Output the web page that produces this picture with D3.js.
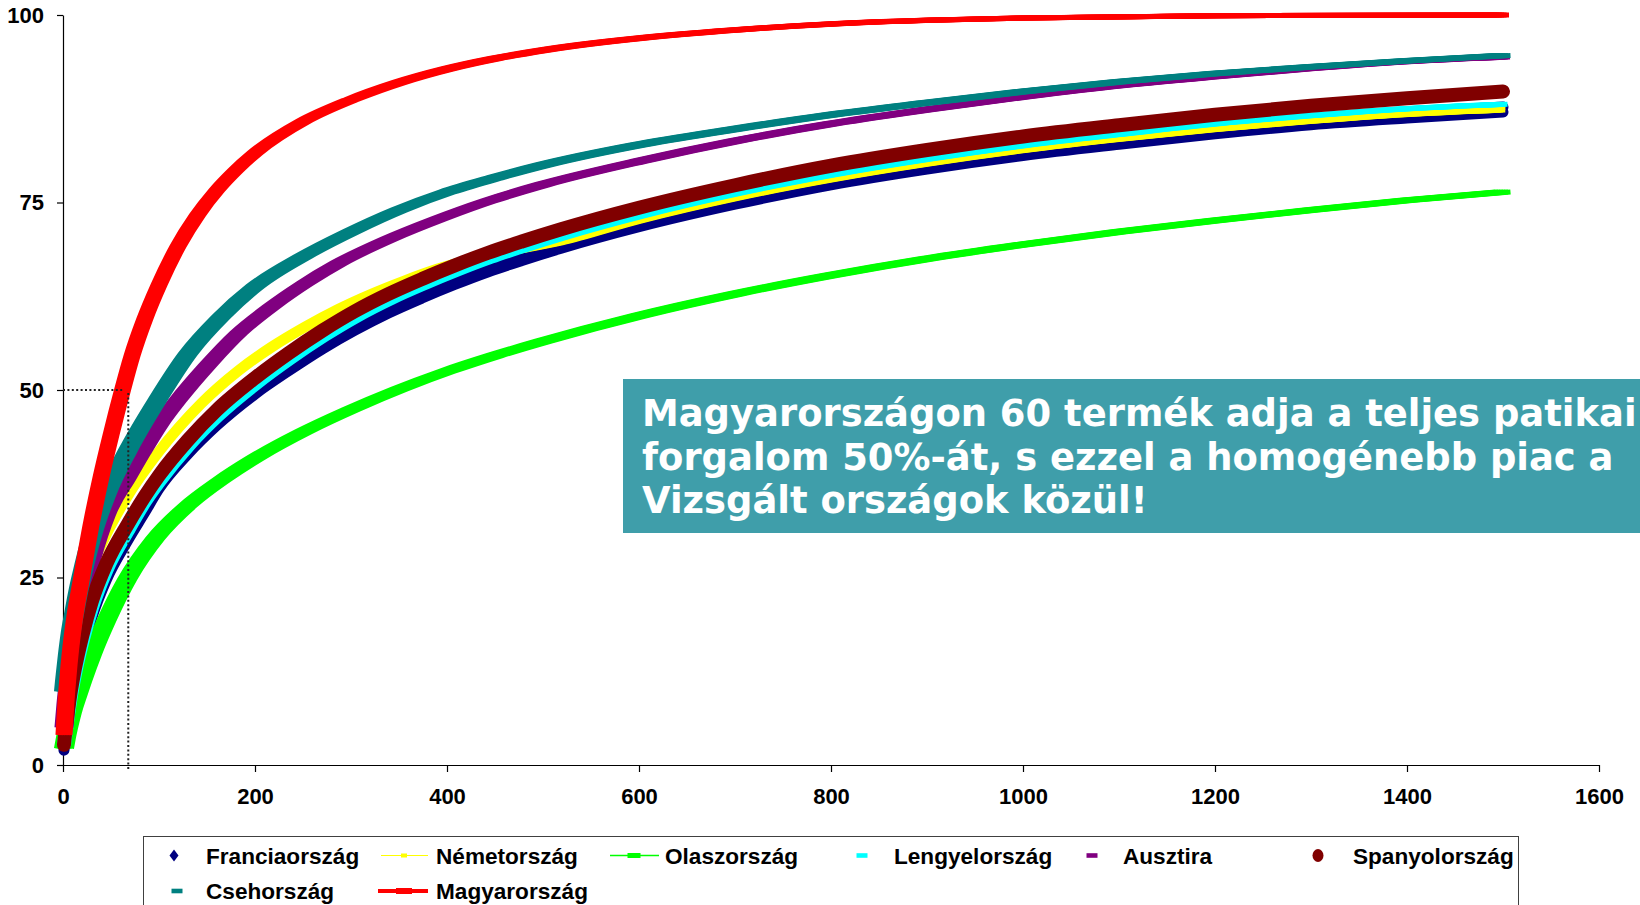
<!DOCTYPE html>
<html>
<head>
<meta charset="utf-8">
<script src="https://cdn.jsdelivr.net/npm/d3@7"></script>
<style>
  body { margin: 0; background: #fff; }
  svg { display: block; }
</style>
</head>
<body>
<svg id="chart" width="1640" height="905"></svg>
<script>
// Cumulative share of pharmacy turnover (%) by product rank, per country.
const xTicks = [0, 200, 400, 600, 800, 1000, 1200, 1400, 1600];
const yTicks = [0, 25, 50, 75, 100];

const franciaorszag = [[1,2.3],[2,3.3],[3,4.3],[5,6.1],[8,8.6],[12,11.3],[20,15.6],[30,20],[45,25],[67,30.2],[85,34],[100,37.2],[130,41.8],[160,45.6],[200,49.8],[235,52.9],[270,55.8],[304,58.3],[339,60.6],[374,62.6],[408,64.4],[443,66.1],[478,67.6],[518,69.2],[600,72.1],[700,75.1],[800,77.7],[900,79.8],[1000,81.6],[1100,83.1],[1200,84.5],[1300,85.7],[1400,86.6],[1500,87.4]];
const nemetorszag = [[1,3.3],[2,5],[3,6.5],[5,9],[8,12.5],[12,16],[20,21.3],[30,26.2],[45,30.7],[67,35.8],[100,41.8],[144,48.2],[183,52.6],[217,55.7],[252,58.4],[287,60.8],[321,62.8],[356,64.6],[391,66.2],[436,67.8],[518,69.9],[600,72.8],[700,75.8],[800,78.3],[900,80.4],[1000,82.2],[1100,83.7],[1200,85],[1300,86.1],[1400,87],[1500,87.6]];
const olaszorszag = [[1,2.2],[2,2.9],[3,3.6],[5,4.8],[9,6.9],[15,9.3],[20,11.2],[30,14.7],[45,19.2],[67,24.8],[96,30.2],[130,34.6],[165,38],[200,40.9],[250,44.4],[300,47.4],[350,50.1],[400,52.5],[450,54.6],[500,56.5],[600,59.9],[700,62.8],[800,65.3],[900,67.5],[1000,69.4],[1100,71.1],[1200,72.6],[1300,74],[1400,75.3],[1500,76.4]];
const lengyelorszag = [[1,2.5],[2,3.6],[3,4.6],[5,6.5],[8,9],[12,11.8],[20,16.3],[30,20.8],[45,25.8],[67,31],[85,34.9],[100,37.6],[130,42.3],[160,46.2],[200,50.5],[235,53.8],[270,56.8],[304,59.4],[339,61.7],[374,63.7],[408,65.5],[443,67.2],[478,68.7],[518,70.3],[600,73.2],[700,76.2],[800,78.7],[900,80.8],[1000,82.6],[1100,84.1],[1200,85.5],[1300,86.6],[1400,87.5],[1500,88.1]];
const ausztria = [[1,5],[2,6.5],[3,8],[5,10.5],[8,13.8],[12,17],[20,22.3],[30,27.5],[45,33.3],[67,38.3],[82,41.6],[100,45.3],[120,48.7],[150,53.2],[183,57.6],[217,61.1],[252,64.2],[287,66.9],[339,70.1],[391,72.8],[443,75.2],[500,77.4],[600,80.5],[700,83.2],[800,85.5],[900,87.4],[1000,89.1],[1100,90.6],[1200,91.8],[1300,92.9],[1400,93.8],[1500,94.4]];
const spanyolorszag = [[1,2.7],[2,3.9],[3,5],[5,7],[8,9.7],[12,12.6],[20,17.2],[30,21.8],[45,26.8],[67,32],[85,35.8],[100,38.6],[130,43.3],[160,47.3],[200,51.6],[235,54.9],[270,57.9],[304,60.5],[339,62.8],[374,64.8],[408,66.6],[443,68.3],[478,69.8],[518,71.4],[600,74.3],[700,77.3],[800,79.9],[900,82],[1000,83.8],[1100,85.3],[1200,86.7],[1300,87.9],[1400,88.9],[1500,89.8]];
const csehorszag = [[1,9.8],[2,11.1],[3,12.3],[5,14.6],[8,17.6],[12,20.5],[16,23.2],[20,25.5],[30,30.5],[45,36],[67,41.8],[100,49],[130,54.8],[165,59.8],[200,63.8],[250,67.8],[300,71.1],[350,74],[400,76.4],[450,78.3],[500,80],[600,82.7],[700,84.8],[800,86.7],[900,88.3],[1000,89.8],[1100,91.1],[1200,92.2],[1300,93.1],[1400,93.9],[1500,94.6]];
const magyarorszag = [[1,4],[2,6.2],[3,8.2],[5,11.5],[8,15.5],[12,19.5],[19,24.7],[30,32.5],[40,38.6],[50,44],[62,50],[72,54.6],[85,59.4],[100,64],[120,69.2],[140,73.3],[160,76.6],[180,79.3],[200,81.6],[250,85.8],[300,88.7],[350,91],[400,92.8],[450,94.2],[500,95.3],[600,96.9],[700,98],[800,98.8],[900,99.3],[1000,99.6],[1200,99.9],[1500,100]];

// Reference lines for the Hungarian 50 % point
const refShare = 50;
const refRankEnd = 62.5;
const refRank = 68;

const noteLines = [
  "Magyarországon 60 termék adja a teljes patikai",
  "forgalom 50%-át, s ezzel a homogénebb piac a",
  "Vizsgált országok közül!"
];

// Series in drawing order; marker size (w x h) decides the swept band
const series = [
  { name: "Franciaország", data: franciaorszag, color: "#000080", marker: "diamond", w: 11, h: 16 },
  { name: "Németország",  data: nemetorszag,   color: "#FFFF00", marker: "square", w: 9, h: 9 },
  { name: "Olaszország",  data: olaszorszag,   color: "#00FF00", marker: "dash", w: 20, h: 5, line: 1.5 },
  { name: "Lengyelország",data: lengyelorszag, color: "#00FFFF", marker: "dash", w: 14, h: 5 },
  { name: "Ausztira",     data: ausztria,      color: "#800080", marker: "dash", w: 19, h: 5 },
  { name: "Spanyolország",data: spanyolorszag, color: "#800000", marker: "circle", w: 14, h: 14 },
  { name: "Csehország",   data: csehorszag,    color: "#008080", marker: "dash", w: 20, h: 5 },
  { name: "Magyarország", data: magyarorszag,  color: "#FF0000", marker: "dash", w: 17, h: 5, line: 4 }
];

const svg = d3.select("#chart");
const x = d3.scaleLinear().domain([0, 1600]).range([63, 1599]);
const y = d3.scaleLinear().domain([0, 100]).range([765, 15]);

const FONT = "'Liberation Sans', Arial, sans-serif";

// Axes
const yAxis = svg.append("g")
  .attr("transform", `translate(${x(0)},0)`)
  .call(d3.axisLeft(y).tickValues(yTicks).tickFormat(d3.format("d"))
    .tickSize(6).tickSizeOuter(0).tickPadding(13));
const xAxis = svg.append("g")
  .attr("transform", `translate(0,${y(0)})`)
  .call(d3.axisBottom(x).tickValues(xTicks).tickFormat(d3.format("d"))
    .tickSize(7).tickSizeOuter(0).tickPadding(16));
[yAxis, xAxis].forEach(a => {
  a.selectAll("path, line").attr("stroke", "#000").attr("stroke-width", 1.2);
  a.selectAll("text").attr("font-family", FONT).attr("font-weight", "bold")
    .attr("font-size", 22).attr("fill", "#000");
});

// Curves: each series is a dense run of markers, drawn as the marker swept along the curve
const line = d3.line().x(d => x(d[0])).y(d => y(d[1])).curve(d3.curveMonotoneX);
const plot = svg.append("g");

function steps(extent, step) {
  if (extent <= 0) return [0];
  const n = Math.max(1, Math.ceil(2 * extent / step));
  return d3.range(n + 1).map(i => -extent + i * 2 * extent / n);
}

function sweep(g, d, color, w, h, pen, cap) {
  const xs = steps((w - pen) / 2, pen / 2);
  const ys = steps((h - pen) / 2, pen / 2);
  xs.forEach(dx => ys.forEach(dy => {
    g.append("path").attr("d", d).attr("transform", `translate(${dx},${dy})`)
      .attr("fill", "none").attr("stroke", color).attr("stroke-width", pen)
      .attr("stroke-linecap", cap).attr("stroke-linejoin", "round");
  }));
}

series.forEach(s => {
  const g = plot.append("g");
  const d = line(s.data);
  if (s.line) {
    g.append("path").attr("d", d).attr("fill", "none").attr("stroke", s.color)
      .attr("stroke-width", s.line).attr("stroke-linejoin", "round");
  }
  if (s.marker === "dash") sweep(g, d, s.color, s.w, s.h, s.h, "butt");
  else if (s.marker === "circle") sweep(g, d, s.color, s.w, s.h, s.w, "round");
  else if (s.marker === "diamond") sweep(g, d, s.color, s.w, s.h, s.w, "round");
  else if (s.marker === "square") sweep(g, d, s.color, s.w, s.h, s.w / 2, "butt");
});

// Dotted reference lines
svg.append("line")
  .attr("x1", x(0)).attr("x2", x(refRankEnd))
  .attr("y1", y(refShare)).attr("y2", y(refShare))
  .attr("stroke", "#222").attr("stroke-width", 2).attr("stroke-dasharray", "2,2.4");
svg.append("line")
  .attr("x1", x(refRank)).attr("x2", x(refRank))
  .attr("y1", y(refShare) + 3).attr("y2", y(0) + 6)
  .attr("stroke", "#222").attr("stroke-width", 2).attr("stroke-dasharray", "2,2.4");

// Note box
const note = svg.append("g");
note.append("rect").attr("x", 623).attr("y", 379).attr("width", 1030).attr("height", 154)
  .attr("fill", "#3f9eaa");
note.selectAll("text").data(noteLines).join("text")
  .attr("x", 642).attr("y", (d, i) => 426 + i * 43.5)
  .attr("fill", "#fff").attr("font-family", "'DejaVu Sans', Verdana, sans-serif")
  .attr("font-weight", "bold").attr("font-size", 36.9)
  .text(d => d);

// Legend
const legend = svg.append("g");
legend.append("rect").attr("x", 143.5).attr("y", 836.5).attr("width", 1375).attr("height", 90)
  .attr("fill", "#fff").attr("stroke", "#404040").attr("stroke-width", 1);

const legendPos = [
  { sx: 174, tx: 206, ty: 855.5 },
  { sx: 404, tx: 436, ty: 855.5 },
  { sx: 634, tx: 665, ty: 855.5 },
  { sx: 862, tx: 894, ty: 855.5 },
  { sx: 1092, tx: 1123, ty: 855.5 },
  { sx: 1318, tx: 1353, ty: 855.5 },
  { sx: 177, tx: 206, ty: 891 },
  { sx: 404, tx: 436, ty: 891 }
];

series.forEach((s, i) => {
  const p = legendPos[i];
  const g = legend.append("g");
  if (s.marker === "diamond") {
    g.append("path").attr("d", `M${p.sx},${p.ty - 6}L${p.sx + 4.5},${p.ty}L${p.sx},${p.ty + 6}L${p.sx - 4.5},${p.ty}Z`)
      .attr("fill", s.color);
  } else if (s.marker === "circle") {
    g.append("ellipse").attr("cx", p.sx).attr("cy", p.ty).attr("rx", 5.5).attr("ry", 6.5).attr("fill", s.color);
  } else if (s.marker === "square") {
    g.append("line").attr("x1", p.sx - 23).attr("x2", p.sx + 24).attr("y1", p.ty).attr("y2", p.ty)
      .attr("stroke", s.color).attr("stroke-width", 1.2);
    g.append("rect").attr("x", p.sx - 3).attr("y", p.ty - 2).attr("width", 6).attr("height", 4).attr("fill", s.color);
  } else if (s.line === 4) {
    g.append("line").attr("x1", p.sx - 26).attr("x2", p.sx + 24).attr("y1", p.ty).attr("y2", p.ty)
      .attr("stroke", s.color).attr("stroke-width", 4);
    g.append("rect").attr("x", p.sx - 8).attr("y", p.ty - 3).attr("width", 16).attr("height", 6).attr("fill", s.color);
  } else if (s.line) {
    g.append("line").attr("x1", p.sx - 24).attr("x2", p.sx + 25).attr("y1", p.ty).attr("y2", p.ty)
      .attr("stroke", s.color).attr("stroke-width", 1.5);
    g.append("rect").attr("x", p.sx - 6.5).attr("y", p.ty - 2.5).attr("width", 13).attr("height", 5).attr("fill", s.color);
  } else {
    g.append("rect").attr("x", p.sx - 5.5).attr("y", p.ty - 2.3).attr("width", 11).attr("height", 4.6).attr("fill", s.color);
  }
  g.append("text").attr("x", p.tx).attr("y", p.ty).attr("dy", "0.36em")
    .attr("font-family", FONT).attr("font-weight", "bold").attr("font-size", 22.6)
    .attr("fill", "#000").text(s.name);
});
</script>
</body>
</html>
